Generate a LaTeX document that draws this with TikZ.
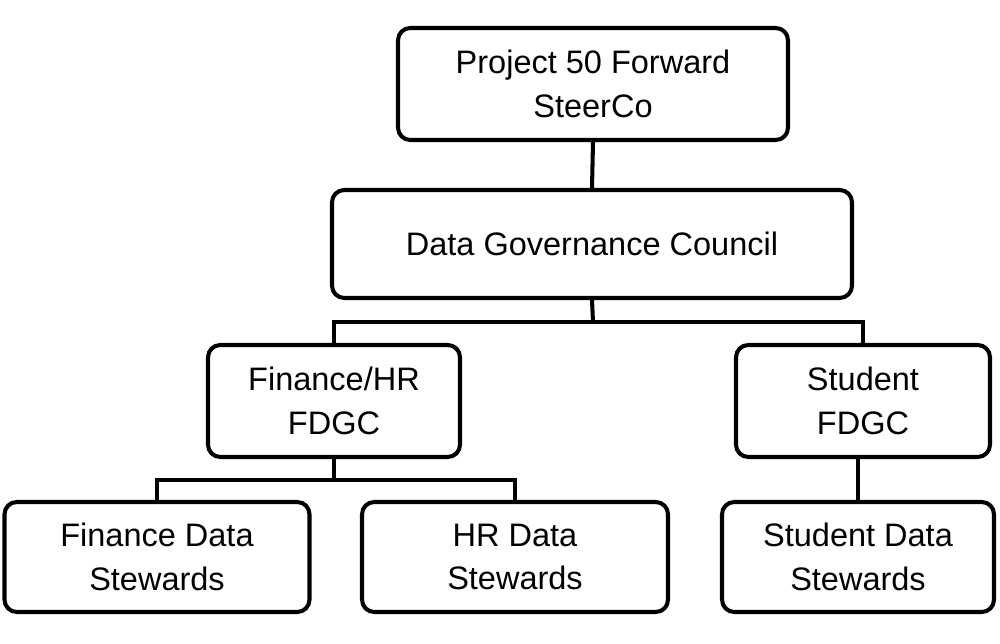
\documentclass[tikz,border=0pt]{standalone}
\usepackage{fontspec}
\setmainfont{Liberation Sans}
\begin{document}
\begin{tikzpicture}[x=0.02cm,y=-0.02cm,
  box/.style={draw,line width=2.3pt,rounded corners=7pt,align=center,inner sep=0pt,font=\fontsize{18.5}{25}\selectfont},
  conn/.style={line width=2.3pt}]
\useasboundingbox (0,0) rectangle (1000,644);
\node[box,minimum width=390*0.02cm,minimum height=112*0.02cm] (top) at (593,84) {Project 50 Forward\\SteerCo};
\node[box,minimum width=520*0.02cm,minimum height=108*0.02cm] (dgc) at (592,244) {Data Governance Council};
\node[box,minimum width=252*0.02cm,minimum height=112*0.02cm] (fin) at (334,401) {Finance/HR\\FDGC};
\node[box,minimum width=254*0.02cm,minimum height=112*0.02cm] (stu) at (863,401) {Student\\FDGC};
\node[box,minimum width=305*0.02cm,minimum height=110*0.02cm] (fds) at (157,557) {Finance Data\\Stewards};
\node[box,minimum width=306*0.02cm,minimum height=110*0.02cm] (hrs) at (515,557) {HR Data\\Stewards};
\node[box,minimum width=272*0.02cm,minimum height=110*0.02cm] (sds) at (858,557) {Student Data\\Stewards};
\coordinate (j1) at (593,322);
\coordinate (j2) at (334,480);
\draw[conn] (top.south) -- (dgc.north);
\draw[conn] (dgc.south) -- (j1);
\draw[conn] (j1) -| (fin.north);
\draw[conn] (j1) -| (stu.north);
\draw[conn] (fin.south) -- (j2);
\draw[conn] (j2) -| (fds.north);
\draw[conn] (j2) -| (hrs.north);
\draw[conn] (stu.south -| sds.north) -- (sds.north);
\end{tikzpicture}
\end{document}
